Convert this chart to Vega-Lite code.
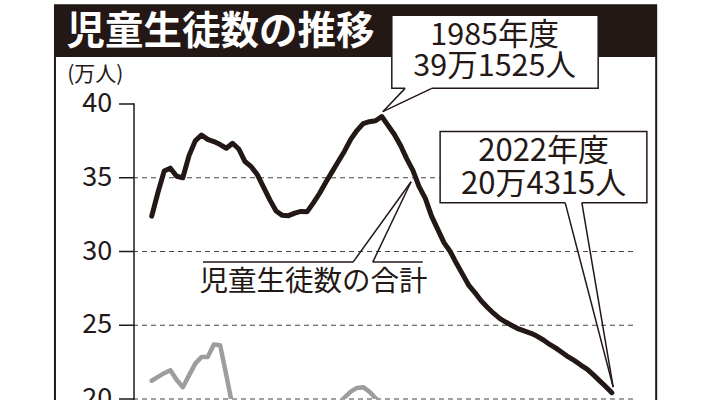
{
  "$schema": "https://vega.github.io/schema/vega-lite/v6.json",
  "width": 499,
  "height": 295,
  "autosize": {"type": "none"},
  "padding": {"left": 134, "top": 104, "right": 78, "bottom": 1},
  "background": "white",
  "config": {"view": {"stroke": null}, "font": "Noto Sans CJK JP"},
  "datasets": {
    "total": [
      {"year": 1948, "value": 32.4}, {"year": 1949, "value": 34.0}, {"year": 1950, "value": 35.45},
      {"year": 1951, "value": 35.65}, {"year": 1952, "value": 35.1}, {"year": 1953, "value": 35.0},
      {"year": 1954, "value": 36.5}, {"year": 1955, "value": 37.5}, {"year": 1956, "value": 37.9},
      {"year": 1957, "value": 37.6}, {"year": 1958, "value": 37.45}, {"year": 1959, "value": 37.25},
      {"year": 1960, "value": 37.0}, {"year": 1961, "value": 37.34}, {"year": 1962, "value": 36.95},
      {"year": 1963, "value": 36.1}, {"year": 1964, "value": 35.75}, {"year": 1965, "value": 35.2},
      {"year": 1966, "value": 34.35}, {"year": 1967, "value": 33.5}, {"year": 1968, "value": 32.75},
      {"year": 1969, "value": 32.45}, {"year": 1970, "value": 32.43}, {"year": 1971, "value": 32.6},
      {"year": 1972, "value": 32.72}, {"year": 1973, "value": 32.7}, {"year": 1974, "value": 33.3},
      {"year": 1975, "value": 33.95}, {"year": 1976, "value": 34.7}, {"year": 1977, "value": 35.4},
      {"year": 1978, "value": 36.1}, {"year": 1979, "value": 36.8}, {"year": 1980, "value": 37.6},
      {"year": 1981, "value": 38.2}, {"year": 1982, "value": 38.67}, {"year": 1983, "value": 38.8},
      {"year": 1984, "value": 38.86}, {"year": 1985, "value": 39.15}, {"year": 1986, "value": 38.55},
      {"year": 1987, "value": 37.95}, {"year": 1988, "value": 37.2}, {"year": 1989, "value": 36.3},
      {"year": 1990, "value": 35.5}, {"year": 1991, "value": 34.4}, {"year": 1992, "value": 33.6},
      {"year": 1993, "value": 32.4}, {"year": 1994, "value": 31.5}, {"year": 1995, "value": 30.6},
      {"year": 1996, "value": 30.0}, {"year": 1997, "value": 29.2}, {"year": 1998, "value": 28.45},
      {"year": 1999, "value": 27.7}, {"year": 2000, "value": 27.2}, {"year": 2001, "value": 26.65},
      {"year": 2002, "value": 26.2}, {"year": 2003, "value": 25.8}, {"year": 2004, "value": 25.45},
      {"year": 2005, "value": 25.2}, {"year": 2006, "value": 24.97}, {"year": 2007, "value": 24.75},
      {"year": 2008, "value": 24.6}, {"year": 2009, "value": 24.45}, {"year": 2010, "value": 24.25},
      {"year": 2011, "value": 24.0}, {"year": 2012, "value": 23.7}, {"year": 2013, "value": 23.45},
      {"year": 2014, "value": 23.15}, {"year": 2015, "value": 22.85}, {"year": 2016, "value": 22.6},
      {"year": 2017, "value": 22.3}, {"year": 2018, "value": 22.03}, {"year": 2019, "value": 21.65},
      {"year": 2020, "value": 21.25}, {"year": 2021, "value": 20.85}, {"year": 2022, "value": 20.43}
    ],
    "sub": [
      {"year": 1948, "value": 21.24}, {"year": 1949, "value": 21.5}, {"year": 1950, "value": 21.75},
      {"year": 1951, "value": 21.95}, {"year": 1952, "value": 21.3}, {"year": 1953, "value": 20.8},
      {"year": 1954, "value": 21.6}, {"year": 1955, "value": 22.4}, {"year": 1956, "value": 22.85},
      {"year": 1957, "value": 22.85}, {"year": 1958, "value": 23.7}, {"year": 1959, "value": 23.65},
      {"year": 1960, "value": 21.6}, {"year": 1961, "value": 19.5}, {"year": 1962, "value": 18.8},
      {"year": 1963, "value": 18.2}, {"year": 1964, "value": 17.6}, {"year": 1965, "value": 17.0},
      {"year": 1966, "value": 16.5}, {"year": 1967, "value": 16.2}, {"year": 1968, "value": 16.0},
      {"year": 1969, "value": 16.0}, {"year": 1970, "value": 16.1}, {"year": 1971, "value": 16.4},
      {"year": 1972, "value": 16.9}, {"year": 1973, "value": 17.5}, {"year": 1974, "value": 18.1},
      {"year": 1975, "value": 18.6}, {"year": 1976, "value": 19.0}, {"year": 1977, "value": 19.35},
      {"year": 1978, "value": 19.65}, {"year": 1979, "value": 20.1}, {"year": 1980, "value": 20.5},
      {"year": 1981, "value": 20.75}, {"year": 1982, "value": 20.8}, {"year": 1983, "value": 20.5},
      {"year": 1984, "value": 20.05}, {"year": 1985, "value": 19.7}, {"year": 1986, "value": 19.2},
      {"year": 1987, "value": 18.6}, {"year": 1988, "value": 18.0}
    ],
    "grid": [{"v": 20}, {"v": 25}, {"v": 30}, {"v": 35}],
    "ticks": [{"v": 20}, {"v": 25}, {"v": 30}, {"v": 35}, {"v": 40}]
  },
  "layer": [
    {
      "data": {"name": "grid"},
      "mark": {"type": "rule", "color": "#444444", "strokeWidth": 1.2, "strokeDash": [5, 4]},
      "encoding": {
        "y": {"field": "v", "type": "quantitative", "scale": {"domain": [20, 40], "nice": false, "zero": false}, "axis": null}
      }
    },
    {
      "data": {"values": [{}]},
      "mark": {"type": "rect", "filled": false, "stroke": "#231815", "strokeWidth": 2},
      "encoding": {
        "x": {"datum": 1932.44, "type": "quantitative", "axis": null},
        "x2": {"datum": 2029.13},
        "y": {"datum": 46.69, "type": "quantitative", "axis": null},
        "y2": {"datum": 10}
      }
    },
    {
      "data": {"values": [{}]},
      "mark": {"type": "rect", "fill": "#231815"},
      "encoding": {
        "x": {"datum": 1932.44, "type": "quantitative", "axis": null},
        "x2": {"datum": 2029.13},
        "y": {"datum": 46.69, "type": "quantitative", "axis": null},
        "y2": {"datum": 43.18}
      }
    },
    {
      "data": {"values": [{}]},
      "mark": {"type": "text", "text": "児童生徒数の推移", "color": "white", "fontSize": 38.5, "fontWeight": "bold", "align": "left", "baseline": "middle"},
      "encoding": {
        "x": {"datum": 1934.3, "type": "quantitative", "axis": null},
        "y": {"datum": 44.9, "type": "quantitative", "axis": null}
      }
    },
    {
      "data": {"values": [{}]},
      "mark": {"type": "text", "text": "(万人)", "color": "#231815", "fontSize": 21, "align": "left", "baseline": "middle"},
      "encoding": {
        "x": {"datum": 1934.4, "type": "quantitative", "axis": null},
        "y": {"datum": 41.95, "type": "quantitative", "axis": null}
      }
    },
    {
      "data": {"values": [{}]},
      "mark": {"type": "rule", "color": "#231815", "strokeWidth": 1.5},
      "encoding": {
        "x": {"datum": 1945.15, "type": "quantitative", "axis": null},
        "y": {"datum": 40.05, "type": "quantitative", "axis": null}, "y2": {"datum": 19}
      }
    },
    {
      "data": {"name": "ticks"},
      "mark": {"type": "rule", "color": "#231815", "strokeWidth": 1.5},
      "encoding": {
        "x": {"datum": 1942.74, "type": "quantitative", "axis": null}, "x2": {"datum": 1945.15},
        "y": {"field": "v", "type": "quantitative", "axis": null}
      }
    },
    {
      "data": {"name": "ticks"},
      "mark": {"type": "text", "color": "#231815", "fontSize": 27, "align": "right", "baseline": "middle"},
      "encoding": {
        "x": {"datum": 1941.65, "type": "quantitative", "axis": null},
        "y": {"field": "v", "type": "quantitative", "axis": null},
        "text": {"field": "v", "type": "quantitative"}
      }
    },
    {
      "data": {"name": "sub"},
      "mark": {"type": "line", "color": "#9d9d9d", "strokeWidth": 4.5, "strokeJoin": "round", "strokeCap": "round", "clip": true},
      "encoding": {
        "x": {"field": "year", "type": "quantitative", "scale": {"domain": [1945.15, 2025.4], "nice": false, "zero": false}, "axis": null},
        "y": {"field": "value", "type": "quantitative", "axis": null}
      }
    },
    {
      "data": {"name": "total"},
      "mark": {"type": "line", "color": "#231815", "strokeWidth": 5, "strokeJoin": "round", "strokeCap": "round"},
      "encoding": {
        "x": {"field": "year", "type": "quantitative", "axis": null},
        "y": {"field": "value", "type": "quantitative", "axis": null}
      }
    },
    {
      "data": {"values": [{}]},
      "mark": {"type": "rule", "color": "#231815", "strokeWidth": 1.5},
      "encoding": {
        "x": {"datum": 1956.25, "type": "quantitative", "axis": null}, "x2": {"datum": 1980.38},
        "y": {"datum": 29.28, "type": "quantitative", "axis": null}, "y2": {"datum": 29.28}
      }
    },
    {
      "data": {"values": [{}]},
      "mark": {"type": "rule", "color": "#231815", "strokeWidth": 1.5},
      "encoding": {
        "x": {"datum": 1980.38, "type": "quantitative", "axis": null}, "x2": {"datum": 1989.71},
        "y": {"datum": 29.28, "type": "quantitative", "axis": null}, "y2": {"datum": 34.73}
      }
    },
    {
      "data": {"values": [{}]},
      "mark": {"type": "rule", "color": "#231815", "strokeWidth": 1.5},
      "encoding": {
        "x": {"datum": 1983.55, "type": "quantitative", "axis": null}, "x2": {"datum": 1989.71},
        "y": {"datum": 29.28, "type": "quantitative", "axis": null}, "y2": {"datum": 34.73}
      }
    },
    {
      "data": {"values": [{}]},
      "mark": {"type": "rule", "color": "#231815", "strokeWidth": 1.5},
      "encoding": {
        "x": {"datum": 1983.55, "type": "quantitative", "axis": null}, "x2": {"datum": 1991.59},
        "y": {"datum": 29.28, "type": "quantitative", "axis": null}, "y2": {"datum": 29.28}
      }
    },
    {
      "data": {"values": [{}]},
      "mark": {"type": "text", "text": "児童生徒数の合計", "color": "#231815", "fontSize": 28.5, "align": "center", "baseline": "middle"},
      "encoding": {
        "x": {"datum": 1974.0, "type": "quantitative", "axis": null},
        "y": {"datum": 27.91, "type": "quantitative", "axis": null}
      }
    },
    {
      "data": {"values": [{}]},
      "mark": {"type": "rect", "fill": "white", "stroke": "#231815", "strokeWidth": 1.5},
      "encoding": {
        "x": {"datum": 1986.61, "type": "quantitative", "axis": null}, "x2": {"datum": 2019.8},
        "y": {"datum": 46.01, "type": "quantitative", "axis": null}, "y2": {"datum": 41.06}
      }
    },
    {
      "data": {"values": [{}]},
      "mark": {"type": "rule", "color": "white", "strokeWidth": 3},
      "encoding": {
        "x": {"datum": 1988.75, "type": "quantitative", "axis": null}, "x2": {"datum": 1993.04},
        "y": {"datum": 41.06, "type": "quantitative", "axis": null}, "y2": {"datum": 41.06}
      }
    },
    {
      "data": {"values": [{}]},
      "mark": {"type": "rule", "color": "#231815", "strokeWidth": 1.5},
      "encoding": {
        "x": {"datum": 1988.75, "type": "quantitative", "axis": null}, "x2": {"datum": 1985.16},
        "y": {"datum": 41.06, "type": "quantitative", "axis": null}, "y2": {"datum": 39.48}
      }
    },
    {
      "data": {"values": [{}]},
      "mark": {"type": "rule", "color": "#231815", "strokeWidth": 1.5},
      "encoding": {
        "x": {"datum": 1993.04, "type": "quantitative", "axis": null}, "x2": {"datum": 1985.16},
        "y": {"datum": 41.06, "type": "quantitative", "axis": null}, "y2": {"datum": 39.48}
      }
    },
    {
      "data": {"values": [{}]},
      "mark": {"type": "text", "text": ["1985年度", "39万1525人"], "lineHeight": 31, "color": "#231815", "fontSize": 30.5, "align": "center", "baseline": "middle"},
      "encoding": {
        "x": {"datum": 2003.15, "type": "quantitative", "axis": null},
        "y": {"datum": 44.62, "type": "quantitative", "axis": null}
      }
    },
    {
      "data": {"values": [{}]},
      "mark": {"type": "rect", "fill": "white", "stroke": "#231815", "strokeWidth": 1.5},
      "encoding": {
        "x": {"datum": 1994.38, "type": "quantitative", "axis": null}, "x2": {"datum": 2027.63},
        "y": {"datum": 38.13, "type": "quantitative", "axis": null}, "y2": {"datum": 33.31}
      }
    },
    {
      "data": {"values": [{}]},
      "mark": {"type": "rule", "color": "white", "strokeWidth": 3},
      "encoding": {
        "x": {"datum": 2014.49, "type": "quantitative", "axis": null}, "x2": {"datum": 2017.17},
        "y": {"datum": 33.31, "type": "quantitative", "axis": null}, "y2": {"datum": 33.31}
      }
    },
    {
      "data": {"values": [{}]},
      "mark": {"type": "rule", "color": "#231815", "strokeWidth": 1.5},
      "encoding": {
        "x": {"datum": 2014.49, "type": "quantitative", "axis": null}, "x2": {"datum": 2022.21},
        "y": {"datum": 33.31, "type": "quantitative", "axis": null}, "y2": {"datum": 20.81}
      }
    },
    {
      "data": {"values": [{}]},
      "mark": {"type": "rule", "color": "#231815", "strokeWidth": 1.5},
      "encoding": {
        "x": {"datum": 2017.17, "type": "quantitative", "axis": null}, "x2": {"datum": 2022.21},
        "y": {"datum": 33.31, "type": "quantitative", "axis": null}, "y2": {"datum": 20.81}
      }
    },
    {
      "data": {"values": [{}]},
      "mark": {"type": "text", "text": ["2022年度", "20万4315人"], "lineHeight": 33, "color": "#231815", "fontSize": 31, "align": "center", "baseline": "middle"},
      "encoding": {
        "x": {"datum": 2011.03, "type": "quantitative", "axis": null},
        "y": {"datum": 36.76, "type": "quantitative", "axis": null}
      }
    }
  ]
}
